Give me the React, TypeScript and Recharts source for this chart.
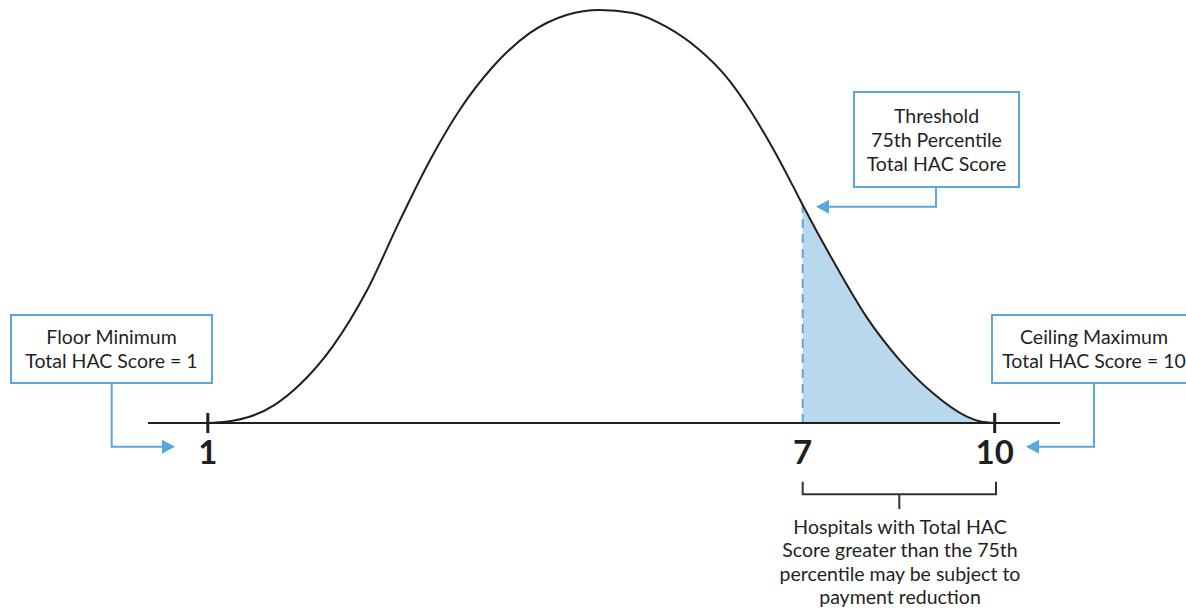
import { ComposedChart, Line, Area, XAxis, YAxis, ReferenceLine } from 'recharts';

// x = position along the score axis (score 1 -> 0, score 10 -> 100), y = relative curve height
const positions = [0, 2.5, 5.3, 8.5, 11.7, 15.9, 20.2, 24.4, 28.2, 32.0, 36.2, 40.9, 45.6, 49.8, 54.0, 58.3, 62.5, 65.9, 68.9, 71.8, 74.3, 75.6, 79.4, 83.7, 87.9, 92.1, 96.4, 98.2, 100];
const heights = [0, 0.35, 1.5, 4.4, 9.3, 18.6, 32.0, 49.0, 63.5, 75.8, 86.2, 94.4, 98.8, 100, 99.3, 95.9, 90.3, 83.8, 75.8, 66.5, 57.6, 52.8, 39.5, 25.7, 15.3, 7.3, 1.6, 0.35, 0];
const threshold = 75.6;
const scoreTicks = [0, 75.6, 100];
const scoreLabels = ['1', '7', '10'];
const floorLines = ['Floor Minimum', 'Total HAC Score = 1'];
const thresholdLines = ['Threshold', '75th Percentile', 'Total HAC Score'];
const ceilingLines = ['Ceiling Maximum', 'Total HAC Score = 10'];
const bracketLines = ['Hospitals with Total HAC', 'Score greater than the 75th', 'percentile may be subject to', 'payment reduction'];

const data = positions.map((p, i) => ({
  p,
  h: heights[i],
  tail: p >= threshold ? heights[i] : null,
}));

const BLUE = '#5ba6dc';
const FILL = '#b9d8ee';
const INK = '#1f1f1f';
const FONT = 'Lato, "Open Sans", sans-serif';

const ScoreTick = ({ x, y, payload }: any) => {
  const idx = scoreTicks.indexOf(payload.value);
  const marked = payload.value !== threshold;
  return (
    <g>
      {marked && <line x1={x} x2={x} y1={y - 10} y2={y + 10} stroke={INK} strokeWidth={3} />}
      <text x={x} y={y + 41} textAnchor="middle" fontSize={33} fontWeight={700} fill={INK} fontFamily={FONT}>
        {scoreLabels[idx]}
      </text>
    </g>
  );
};

function Callout({ left, top, width, height, lines }: { left: number; top: number; width: number; height: number; lines: string[] }) {
  return (
    <div
      style={{
        position: 'absolute',
        left,
        top,
        width,
        height,
        boxSizing: 'border-box',
        border: `2px solid ${BLUE}`,
        background: '#fff',
        display: 'flex',
        flexDirection: 'column',
        justifyContent: 'center',
        alignItems: 'center',
        fontFamily: FONT,
        fontSize: 19.5,
        lineHeight: '24px',
        color: INK,
        whiteSpace: 'nowrap',
      }}
    >
      {lines.map((t) => (
        <div key={t}>{t}</div>
      ))}
    </div>
  );
}

const Arrow = ({ d, tipX, tipY, dir }: { d: string; tipX: number; tipY: number; dir: 1 | -1 }) => (
  <g>
    <path d={d} fill="none" stroke={BLUE} strokeWidth={2} />
    <polygon points={`${tipX},${tipY} ${tipX - dir * 13},${tipY - 7} ${tipX - dir * 13},${tipY + 7}`} fill={BLUE} />
  </g>
);

export default function App() {
  return (
    <div style={{ position: 'relative', width: 1186, height: 609, overflow: 'hidden', background: '#fff' }}>
      <style>{'body{margin:0}'}</style>
      <div style={{ position: 'absolute', left: 0, top: 0 }}>
        <ComposedChart width={1186} height={609} data={data} margin={{ top: 10, right: 126, left: 148, bottom: 126 }}>
          <XAxis
            type="number"
            dataKey="p"
            domain={[-7.6, 108.3]}
            ticks={scoreTicks}
            allowDataOverflow
            height={60}
            tickSize={0}
            tickMargin={0}
            tickLine={false}
            axisLine={{ stroke: INK, strokeWidth: 2 }}
            tick={<ScoreTick />}
            interval={0}
          />
          <YAxis type="number" domain={[0, 100]} hide />
          <Area
            type="monotone"
            dataKey="tail"
            stroke="none"
            fill={FILL}
            fillOpacity={1}
            isAnimationActive={false}
          />
          <ReferenceLine
            segment={[
              { x: threshold, y: 0 },
              { x: threshold, y: heights[positions.indexOf(threshold)] },
            ]}
            stroke={BLUE}
            strokeWidth={2}
            strokeDasharray="9 6"
          />
          <Line
            type="monotone"
            dataKey="h"
            stroke={INK}
            strokeWidth={2}
            dot={false}
            isAnimationActive={false}
          />
        </ComposedChart>
      </div>

      <svg width={1186} height={609} style={{ position: 'absolute', left: 0, top: 0 }}>
        <Arrow d="M111.7 384 V446.7 H165" tipX={175} tipY={446.7} dir={1} />
        <Arrow d="M936 187 V206.7 H826" tipX={816} tipY={206.7} dir={-1} />
        <Arrow d="M1094 383 V446.7 H1036" tipX={1026} tipY={446.7} dir={-1} />
        <path d="M802.7 481.7 V494.3 H996 V481.7 M899.3 494.3 V509" fill="none" stroke="#333" strokeWidth={2} />
      </svg>

      <Callout left={10} top={314} width={203} height={70} lines={floorLines} />
      <Callout left={853} top={91} width={167} height={97} lines={thresholdLines} />
      <Callout left={991} top={314} width={206} height={70} lines={ceilingLines} />

      <div
        style={{
          position: 'absolute',
          left: 750,
          top: 515,
          width: 300,
          textAlign: 'center',
          fontFamily: FONT,
          fontSize: 19.5,
          lineHeight: '23.3px',
          color: INK,
        }}
      >
        {bracketLines.map((t) => (
          <div key={t}>{t}</div>
        ))}
      </div>
    </div>
  );
}
